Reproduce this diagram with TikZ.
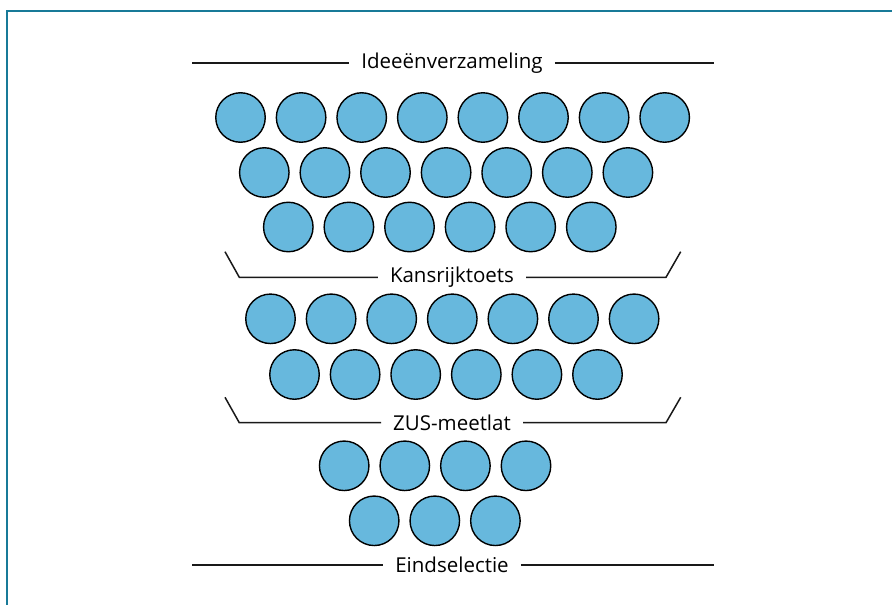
\documentclass[tikz,border=0pt]{standalone}
\usepackage{fontspec}
\setmainfont{Open Sans}
\definecolor{bolblauw}{RGB}{103,184,221}
\definecolor{kaderblauw}{RGB}{24,122,152}
\begin{document}
\begin{tikzpicture}[x=1pt, y=-1pt,
		bol/.style={circle, draw=black, line width=1.4pt, fill=bolblauw, inner sep=0pt, minimum size=49.5pt},
		fase/.style={inner xsep=12pt, inner ysep=0pt, font=\fontsize{20.5}{24}\selectfont},
		lijn/.style={line width=1.5pt, black!90}]
	\useasboundingbox (0,0) rectangle (892,605);
	\draw[kaderblauw, line width=2pt] (7,605) -- (7,11) -- (892,11);
	
	% rijen bollen: naam/y/start/laatste index
	\foreach \r/\y/\s/\n in {a/117.5/240.5/7, b/172.5/264.3/6, c/227/288.3/5,
		d/318.8/270.5/6, e/374.5/294.5/5, f/465.8/344.2/3, g/520.8/374.2/2}{
		\foreach \i in {0,...,\n}{
			\node[bol] (\r\i) at ({\s+60.6*\i}, \y){};
		}
	}
	
	% fasen
	\node[fase] (idee) at (452, 63){Ideeënverzameling};
	\node[fase] (kans) at (452, 277){Kansrijktoets};
	\node[fase] (zus) at (452, 422.5){ZUS-meetlat};
	\node[fase] (eind) at (452, 565){Eindselectie};
	
	\coordinate (i-l) at (192, 63);
	\coordinate (i-r) at (714, 63);
	\draw[lijn] (i-l) -- (i-l -| idee.west);
	\draw[lijn] (idee.east |- i-r) -- (i-r);
	
	\coordinate (k-lt) at (225, 251.7);
	\coordinate (k-lb) at (239.3, 277.3);
	\coordinate (k-rb) at (666, 277.3);
	\coordinate (k-rt) at (680.7, 251.7);
	\draw[lijn] (k-lt) -- (k-lb) -- (k-lb -| kans.west);
	\draw[lijn] (kans.east |- k-rb) -- (k-rb) -- (k-rt);
	
	\coordinate (z-lt) at (225, 397.3);
	\coordinate (z-lb) at (239.3, 422.7);
	\coordinate (z-rb) at (666, 422.7);
	\coordinate (z-rt) at (680.7, 397.3);
	\draw[lijn] (z-lt) -- (z-lb) -- (z-lb -| zus.west);
	\draw[lijn] (zus.east |- z-rb) -- (z-rb) -- (z-rt);
	
	\coordinate (e-l) at (192, 565);
	\coordinate (e-r) at (714, 565);
	\draw[lijn] (e-l) -- (e-l -| eind.west);
	\draw[lijn] (eind.east |- e-r) -- (e-r);
\end{tikzpicture}
\end{document}
